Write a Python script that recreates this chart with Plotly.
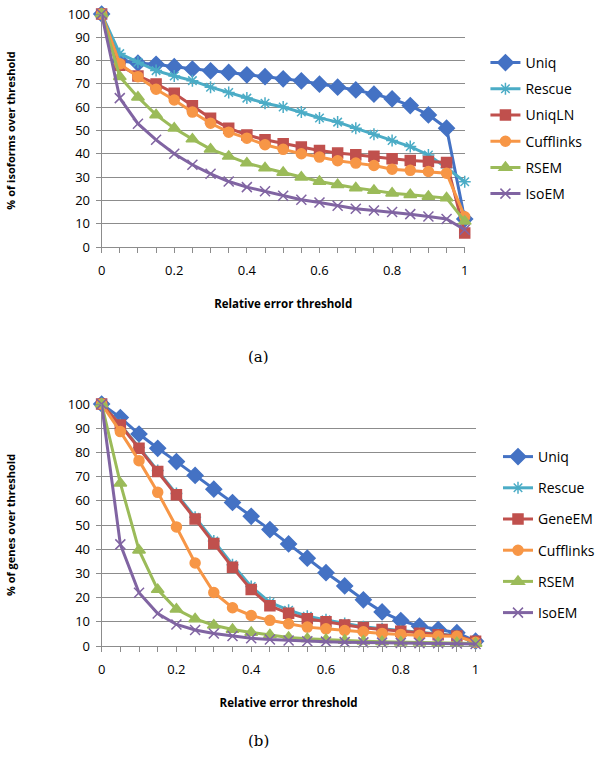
import plotly.graph_objects as go

x = [0, 0.05, 0.1, 0.15, 0.2, 0.25, 0.3, 0.35, 0.4, 0.45, 0.5,
     0.55, 0.6, 0.65, 0.7, 0.75, 0.8, 0.85, 0.9, 0.95, 1.0]

# Panel (a): % of isoforms over threshold
uniq_a = [100, 80, 78.9, 78.4, 77.4, 76.4, 75.6, 74.9, 73.9, 73.1, 72.2,
          71.3, 69.9, 68.6, 67.4, 65.6, 63.6, 60.7, 56.7, 51, 12]
rescue_a = [100, 83, 79.3, 75.7, 73.4, 71.4, 68.6, 66.3, 63.9, 61.7, 60.1,
            57.9, 55.4, 53.6, 51, 48.4, 45.7, 43.1, 39.5, 34, 28]
uniqln_a = [100, 78, 73.4, 70, 66, 60.6, 55.3, 51, 48.1, 46, 44.3,
            42.9, 41.4, 40.3, 39.6, 38.9, 37.9, 37.1, 36.7, 36.3, 6]
cuff_a = [100, 78.6, 73.1, 67.7, 63.1, 57.9, 53.1, 49.3, 46.7, 43.9, 41.9,
          40, 38.6, 37, 36, 35, 33.4, 32.9, 32.4, 31.7, 13]
rsem_a = [100, 73.1, 64.3, 56.7, 51, 46.3, 42, 38.9, 36, 33.9, 32,
          29.9, 28.1, 26.7, 25.3, 24.3, 23.1, 22.4, 21.7, 21, 11]
isoem_a = [100, 63.9, 52.9, 46, 40, 35.3, 31.4, 28.1, 25.7, 23.9, 22,
           20.3, 19.1, 17.7, 16.4, 15.7, 15, 14.1, 13.1, 12, 7.4]

# Panel (b): % of genes over threshold
uniq_b = [100, 94.4, 87.6, 81.7, 76.2, 70.5, 64.8, 59.3, 53.6, 48.1, 42.2,
          36.3, 30.3, 24.8, 19.1, 14.1, 10.5, 8.2, 6.8, 5.5, 2]
rescue_b = [100, 91.5, 82, 72.5, 63, 53.2, 43.4, 33.6, 24.6, 18, 14.8,
            12.3, 10.8, 9.3, 8, 7.1, 6.3, 5.5, 4.8, 4.2, 1.5]
geneem_b = [100, 91.3, 81.7, 72.1, 62.5, 52.5, 42.4, 32.5, 23.3, 16.6, 13.5,
            11.3, 10, 8.7, 7.5, 6.8, 6.1, 5.3, 4.6, 4.1, 2]
cuff_b = [100, 88.6, 76.6, 63.5, 49.2, 34.3, 22.1, 15.8, 12.6, 10.6, 9.2,
          7.8, 7.1, 6.4, 5.9, 5.2, 4.8, 4.4, 4.1, 4.0, 1.5]
rsem_b = [100, 67.3, 39.6, 23.3, 15.2, 11.2, 8.6, 6.8, 5.6, 4.6, 3.5,
          3, 2.6, 2.3, 2, 1.8, 1.6, 1.5, 1.4, 1.3, 1]
isoem_b = [100, 42, 22, 13.4, 8.9, 6.6, 5.2, 4.1, 3.2, 2.7, 2.3,
           2, 1.8, 1.6, 1.5, 1.4, 1.3, 1.2, 1.1, 1, 0.8]

x_ticks = [0, 0.2, 0.4, 0.6, 0.8, 1]
x_tick_text = ["0", "0.2", "0.4", "0.6", "0.8", "1"]
y_ticks = [0, 10, 20, 30, 40, 50, 60, 70, 80, 90, 100]

styles = {
    "Uniq": ("#4472C4", "diamond", 12),
    "Rescue": ("#4BACC6", "asterisk-open", 10),
    "UniqLN": ("#C0504D", "square", 10),
    "GeneEM": ("#C0504D", "square", 10),
    "Cufflinks": ("#F79646", "circle", 10),
    "RSEM": ("#9BBB59", "triangle-up", 11),
    "IsoEM": ("#8064A2", "x-thin-open", 10),
}

FONT = "Open Sans"
GRID = "#8C8C8C"

fig = go.Figure()

series_a = [("Uniq", uniq_a), ("Rescue", rescue_a), ("UniqLN", uniqln_a),
            ("Cufflinks", cuff_a), ("RSEM", rsem_a), ("IsoEM", isoem_a)]
series_b = [("Uniq", uniq_b), ("Rescue", rescue_b), ("GeneEM", geneem_b),
            ("Cufflinks", cuff_b), ("RSEM", rsem_b), ("IsoEM", isoem_b)]

for panel, series, xa, ya, leg in [("a", series_a, "x", "y", "legend"),
                                   ("b", series_b, "x2", "y2", "legend2")]:
    for name, vals in series:
        color, sym, size = styles[name]
        fig.add_trace(go.Scatter(
            x=x, y=vals, name=name, mode="lines+markers",
            xaxis=xa, yaxis=ya, legend=leg,
            legendgroup=panel + name,
            line=dict(color=color, width=3),
            marker=dict(symbol=sym, size=size, color=color,
                        line=dict(color=color, width=1.5)),
            cliponaxis=False,
        ))

def xaxis(domain, anchor):
    return dict(
        domain=domain, anchor=anchor, range=[0, 1], automargin=False,
        tickvals=x_ticks, ticktext=x_tick_text,
        ticks="outside", ticklen=5, tickcolor=GRID,
        minor=dict(dtick=0.05, tick0=0, ticks="outside", ticklen=5,
                   tickcolor=GRID, showgrid=False),
        showline=True, linecolor=GRID, linewidth=1,
        showgrid=False, zeroline=False,
        tickfont=dict(family=FONT, size=13, color="#000"),
        ticklabelstandoff=6,
        title=dict(text="<b>Relative error threshold</b>",
                   font=dict(family=FONT, size=11.5, color="#000"),
                   standoff=22),
    )

def yaxis(domain, anchor, title):
    return dict(
        domain=domain, anchor=anchor, range=[0, 100], automargin=False,
        tickvals=y_ticks,
        ticks="outside", ticklen=5, tickcolor=GRID,
        showline=True, linecolor=GRID, linewidth=1,
        showgrid=True, gridcolor=GRID, gridwidth=1, zeroline=False,
        tickfont=dict(family=FONT, size=13, color="#000"),
        ticklabelstandoff=3,
        title=dict(text="<b>" + title + "</b>",
                   font=dict(family=FONT, size=11, color="#000"),
                   standoff=49),
    )

H = 769.0
W = 600.0

fig.update_layout(
    width=600, height=769,
    margin=dict(l=0, r=0, t=0, b=0),
    paper_bgcolor="white", plot_bgcolor="white",
    xaxis=xaxis([103 / W, 471 / W], "y"),
    yaxis=yaxis([1 - 247 / H, 1 - 14 / H], "x", "% of isoforms over threshold"),
    xaxis2=xaxis([103 / W, 482 / W], "y2"),
    yaxis2=yaxis([1 - 646 / H, 1 - 404 / H], "x2", "% of genes over threshold"),
    legend=dict(x=492 / W, y=1 - 47 / H, xanchor="left", yanchor="top",
                font=dict(family=FONT, size=14, color="#000"),
                tracegroupgap=5, itemwidth=30, bgcolor="rgba(0,0,0,0)"),
    legend2=dict(x=505 / W, y=1 - 441 / H, xanchor="left", yanchor="top",
                 font=dict(family=FONT, size=14, color="#000"),
                 tracegroupgap=10, itemwidth=30, bgcolor="rgba(0,0,0,0)"),
    annotations=[
        dict(text="(a)", x=262 / W, y=1 - 357 / H, xref="paper", yref="paper",
             showarrow=False, font=dict(family="DejaVu Serif", size=15, color="#000")),
        dict(text="(b)", x=262 / W, y=1 - 752 / H, xref="paper", yref="paper",
             showarrow=False, font=dict(family="DejaVu Serif", size=15, color="#000")),
    ],
)

fig.write_html("out.html",
               config={"displayModeBar": False},
               post_script="document.body.style.margin='0';document.body.style.overflow='hidden';")
